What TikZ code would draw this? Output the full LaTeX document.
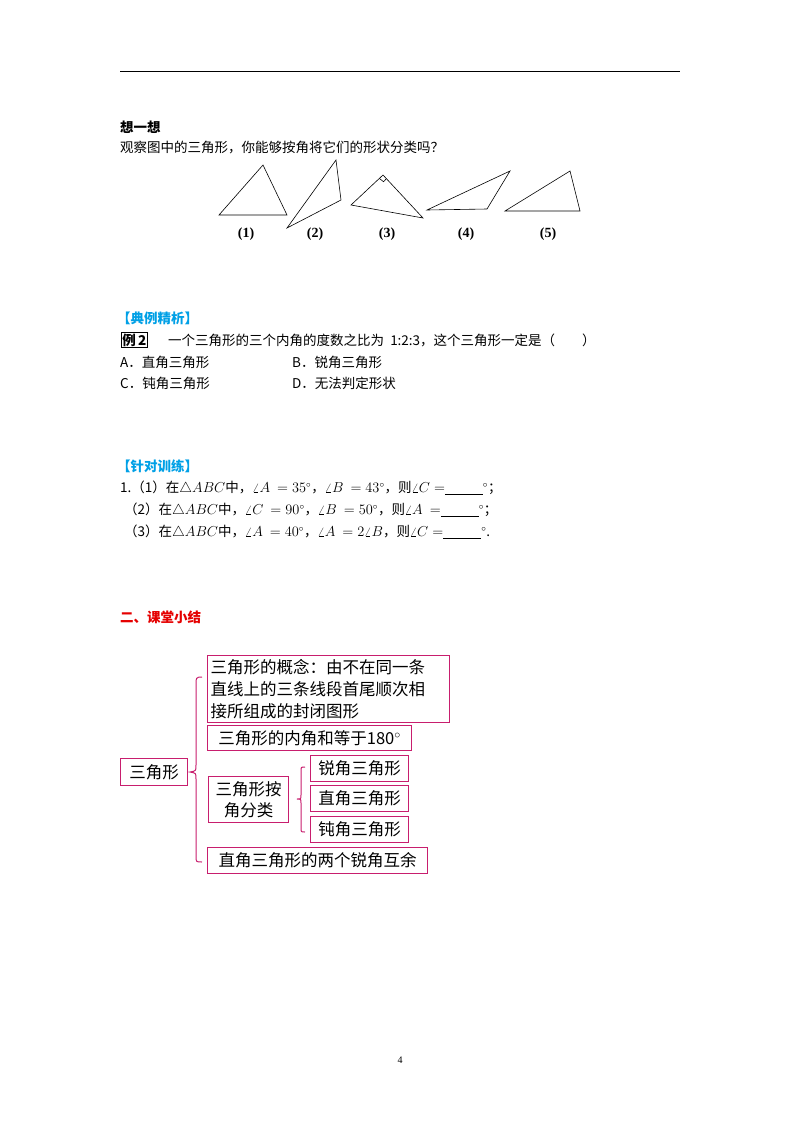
\documentclass[tikz,border=0pt]{standalone}
\usepackage{fontspec}
\usetikzlibrary{calc}
\setmainfont{Liberation Serif}
\newfontfamily\cjk{Noto Sans CJK SC}
\definecolor{mag}{RGB}{200,30,110}
\definecolor{cy}{RGB}{0,160,230}
\begin{document}
\begin{tikzpicture}[x=1pt,y=-1pt,
  txt/.style={anchor=west,inner sep=0pt,font=\fontsize{13.5}{16}\cjk},
  lab/.style={inner sep=0pt,font=\fontsize{14}{16}\selectfont\bfseries},
  bx/.style={draw=mag,line width=1.3pt,inner sep=0pt,anchor=north west,font=\fontsize{16.5}{22}\cjk,align=left},
  tri/.style={line width=0.6pt}]
\useasboundingbox (0,0) rectangle (800,1132);
\fill[white] (0,0) rectangle (800,1132);
\draw[line width=1pt] (120,72) -- (680,72);
\node[txt,font=\fontsize{13.5}{16}\cjk\bfseries] (t1) at (120,127) {想一想};
\node[txt] (t2) at (120,148) {观察图中的三角形，你能够按角将它们的形状分类吗？};
% triangles
\draw[tri] (219,215) -- (263,165) -- (287,215) -- cycle;
\draw[tri] (287,228) -- (336,160) -- (341,200) -- cycle;
\draw[tri] (383,175) -- (351,205) -- (423,218) -- cycle;
\draw[tri] ($(383,175)!5pt!(351,205)$) -- ++(4.2,3.3) coordinate (rq) -- ($(383,175)!5pt!(423,218)$);
\draw[tri] (427,210) -- (510,171) -- (487,209) -- cycle;
\draw[tri] (505,211) -- (570,171) -- (580,211) -- cycle;
\node[lab] (l1) at (246,234) {(1)};
\node[lab] (l2) at (315,234) {(2)};
\node[lab] (l3) at (387,234) {(3)};
\node[lab] (l4) at (466,234) {(4)};
\node[lab] (l5) at (548,234) {(5)};
% example
\node[txt,text=cy,font=\fontsize{13.5}{16}\cjk\bfseries] (h1) at (117,318) {【典例精析】};
\node[txt,draw,line width=0.8pt,inner sep=1pt,font=\fontsize{13.5}{16}\cjk\bfseries] (e2) at (121,340) {例\,2};
\node[txt] (e2t) at (168,340) {一个三角形的三个内角的度数之比为\ \ 1:2:3，这个三角形一定是（\qquad）};
\node[txt] (oa) at (120,362) {A．直角三角形};
\node[txt] (ob) at (292,362) {B．锐角三角形};
\node[txt] (oc) at (120,383) {C．钝角三角形};
\node[txt] (od) at (292,383) {D．无法判定形状};
% training
\node[txt,text=cy,font=\fontsize{13.5}{16}\cjk\bfseries] (h2) at (117,466) {【针对训练】};
\node[txt] (p1) at (120,488) {1.（1）在$\triangle ABC$中，$\angle A\ =35^\circ$，$\angle B\ =43^\circ$，则$\angle C=$\underline{\hspace{38pt}}$^\circ$；};
\node[txt] (p2) at (120,510) {\hspace{4pt}（2）在$\triangle ABC$中，$\angle C\ =90^\circ$，$\angle B\ =50^\circ$，则$\angle A\ =$\underline{\hspace{38pt}}$^\circ$；};
\node[txt] (p3) at (120,532) {\hspace{4pt}（3）在$\triangle ABC$中，$\angle A\ =40^\circ$，$\angle A\ =2\angle B$，则$\angle C=$\underline{\hspace{38pt}}$^\circ$.};
\node[txt,text=red!90!black,font=\fontsize{13.5}{16}\cjk\bfseries] (h3) at (120,617) {二、课堂小结};
% concept map
\node[bx,minimum width=67pt,minimum height=27pt] (root) at (120,758) {};
\node[font=\fontsize{16.5}{20}\cjk] at (root.center) {三角形};
\node[bx,minimum width=240pt,minimum height=67pt,text width=236pt,inner xsep=3pt] (c1) at (207,655) {三角形的概念：由不在同一条\\直线上的三条线段首尾顺次相\\接所组成的封闭图形};
\node[bx,minimum width=204pt,minimum height=25pt,inner xsep=4pt] (c2) at (207,725) {三角形的内角和等于180$^\circ$};
\node[bx,minimum width=80pt,minimum height=46pt,align=center,text width=76pt,font=\fontsize{16.5}{21}\cjk] (c3) at (208,776) {三角形按\\角分类};
\node[bx,minimum width=98pt,minimum height=26pt,align=center] (d1) at (310,755) {锐角三角形};
\node[bx,minimum width=98pt,minimum height=26pt,align=center] (d2) at (310,785) {直角三角形};
\node[bx,minimum width=98pt,minimum height=26pt,align=center] (d3) at (310,816) {钝角三角形};
\node[bx,minimum width=220pt,minimum height=26pt,inner xsep=4pt] (c4) at (207,847) {直角三角形的两个锐角互余};
% braces
\draw[mag,line width=1pt] (202,677) .. controls (196,677) and (196,678) .. (196,684) -- (196,765) .. controls (196,771) .. (190,772)
  .. controls (196,773) .. (196,779) -- (196,856) .. controls (196,862) and (196,862) .. (202,862);
\draw[mag,line width=1pt] (305,767) .. controls (301,767) .. (301,771) -- (301,795) .. controls (301,799) .. (297,799)
  .. controls (301,799) .. (301,803) -- (301,828) .. controls (301,832) .. (305,832);
\node[font=\fontsize{10}{12}\selectfont] (pg) at (400,1060) {4};
\end{tikzpicture}
\end{document}
